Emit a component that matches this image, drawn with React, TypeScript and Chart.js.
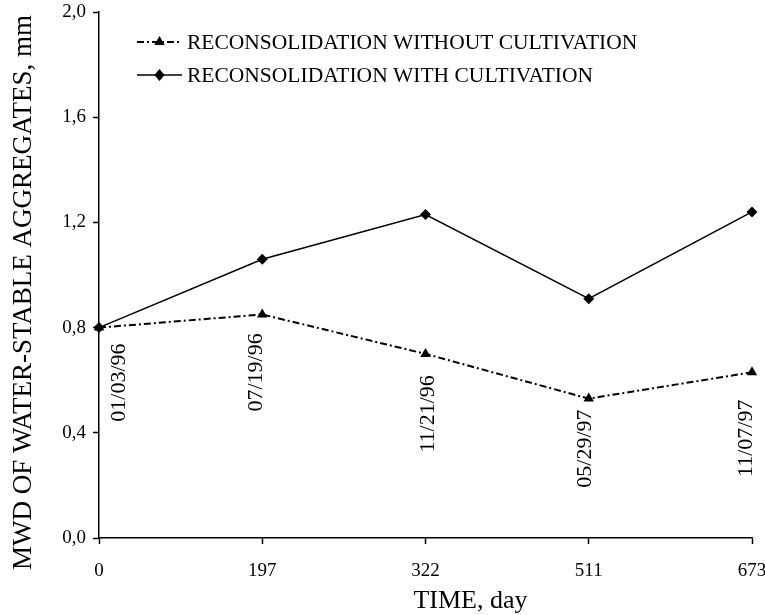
import React, { useEffect, useRef } from 'react';
import { Chart, registerables } from 'chart.js';

Chart.register(...registerables);

// ---- data ----
const dayLabels = ['0', '197', '322', '511', '673'];
const dateLabels = ['01/03/96', '07/19/96', '11/21/96', '05/29/97', '11/07/97'];
const withoutCultivation = [0.8, 0.85, 0.7, 0.53, 0.63];
const withCultivation = [0.8, 1.06, 1.23, 0.91, 1.24];
const seriesNames = ['RECONSOLIDATION WITHOUT CULTIVATION', 'RECONSOLIDATION WITH CULTIVATION'];
const yTickValues = [0, 0.4, 0.8, 1.2, 1.6, 2.0];
const xTitle = 'TIME, day';
const yTitle = 'MWD OF WATER-STABLE AGGREGATES, mm';

// ---- layout (not data) ----
const dateLabelOffsets = [
  [20, 55],
  [-6, 58],
  [3, 60],
  [-4, 50],
  [-6, 66],
];

const FONT = '"Liberation Serif", "Times New Roman", serif';

function drawMarker(ctx: CanvasRenderingContext2D, style: string, x: number, y: number, r: number) {
  ctx.beginPath();
  if (style === 'triangle') {
    ctx.moveTo(x, y - r);
    ctx.lineTo(x + r * 0.866, y + r * 0.5);
    ctx.lineTo(x - r * 0.866, y + r * 0.5);
  } else {
    ctx.moveTo(x, y - r);
    ctx.lineTo(x + r * 0.85, y);
    ctx.lineTo(x, y + r);
    ctx.lineTo(x - r * 0.85, y);
  }
  ctx.closePath();
  ctx.fill();
}

const overlayPlugin = {
  id: 'overlay',
  afterDatasetsDraw(chart: any) {
    const { ctx, chartArea } = chart;
    ctx.save();
    ctx.fillStyle = '#000';
    ctx.strokeStyle = '#000';

    // date labels under the lower series
    const meta = chart.getDatasetMeta(0);
    ctx.font = `22px ${FONT}`;
    ctx.textAlign = 'center';
    ctx.textBaseline = 'middle';
    meta.data.forEach((pt: any, i: number) => {
      const [dx, dy] = dateLabelOffsets[i];
      ctx.save();
      ctx.translate(pt.x + dx, pt.y + dy);
      ctx.rotate(-Math.PI / 2);
      ctx.fillText(dateLabels[i], 0, 0);
      ctx.restore();
    });

    // legend
    chart.data.datasets.forEach((ds: any, i: number) => {
      const y = chartArea.top + 30 + i * 33;
      const x0 = chartArea.left + 38;
      const x1 = chartArea.left + 83;
      ctx.save();
      ctx.lineWidth = ds.borderWidth;
      ctx.setLineDash(ds.borderDash || []);
      ctx.beginPath();
      ctx.moveTo(x0, y);
      ctx.lineTo(x1, y);
      ctx.stroke();
      ctx.restore();
      drawMarker(ctx, ds.pointStyle, (x0 + x1) / 2, y, 6);
      ctx.font = `21.5px ${FONT}`;
      ctx.textAlign = 'left';
      ctx.textBaseline = 'middle';
      ctx.fillText(ds.label, x1 + 5, y + 1);
    });

    // axis titles
    ctx.font = `26px ${FONT}`;
    ctx.textBaseline = 'alphabetic';
    ctx.textAlign = 'center';
    ctx.fillText(xTitle, (chartArea.left + chartArea.right) / 2 + 45, 608);

    ctx.save();
    ctx.font = `27px ${FONT}`;
    ctx.translate(31, 570);
    ctx.rotate(-Math.PI / 2);
    ctx.textAlign = 'left';
    ctx.fillText(yTitle, 0, 0);
    ctx.restore();

    ctx.restore();
  },
};

export default function App() {
  const canvasRef = useRef<HTMLCanvasElement | null>(null);

  useEffect(() => {
    document.body.style.margin = '0';
    const canvas = canvasRef.current;
    if (!canvas) return;
    const chart = new Chart(canvas, {
      type: 'line',
      data: {
        labels: dayLabels,
        datasets: [
          {
            label: seriesNames[0],
            data: withoutCultivation,
            borderColor: '#000',
            backgroundColor: '#000',
            borderWidth: 2,
            borderDash: [7, 3, 2, 3],
            pointStyle: 'triangle',
            pointRadius: 6,
            pointBorderWidth: 0,
            tension: 0,
            fill: false,
          },
          {
            label: seriesNames[1],
            data: withCultivation,
            borderColor: '#000',
            backgroundColor: '#000',
            borderWidth: 1.5,
            borderDash: [],
            pointStyle: 'rectRot',
            pointRadius: 5.5,
            pointBorderWidth: 0,
            tension: 0,
            fill: false,
          },
        ],
      },
      options: {
        responsive: false,
        animation: false,
        devicePixelRatio: 1,
        layout: { padding: { top: 12, right: 13, left: 0, bottom: 0 }, autoPadding: false },
        plugins: {
          legend: { display: false },
          tooltip: { enabled: false },
        },
        scales: {
          x: {
            type: 'category',
            offset: false,
            grid: {
              display: true,
              drawOnChartArea: false,
              drawTicks: true,
              tickLength: 6,
              tickColor: '#000',
              tickWidth: 1.5,
            },
            border: { display: true, color: '#000', width: 1.5 },
            ticks: {
              color: '#000',
              font: { family: FONT, size: 19 },
              padding: 16,
              maxRotation: 0,
              autoSkip: false,
            },
            afterFit: (scale: any) => {
              scale.height = 615 - 538;
              scale.paddingLeft = 0;
              scale.paddingRight = 0;
            },
          },
          y: {
            type: 'linear',
            min: 0,
            max: 2,
            grid: {
              display: true,
              drawOnChartArea: false,
              drawTicks: true,
              tickLength: 6,
              tickColor: '#000',
              tickWidth: 1.5,
            },
            border: { display: true, color: '#000', width: 1.5 },
            afterBuildTicks: (scale: any) => {
              scale.ticks = yTickValues.map((v) => ({ value: v }));
            },
            ticks: {
              color: '#000',
              font: { family: FONT, size: 19 },
              padding: 7,
              callback: (v: any) => Number(v).toFixed(1).replace('.', ','),
            },
            afterFit: (scale: any) => {
              scale.width = 99;
              scale.paddingTop = 0;
              scale.paddingBottom = 0;
            },
          },
        },
      },
      plugins: [overlayPlugin],
    });
    return () => chart.destroy();
  }, []);

  return (
    <div style={{ width: 765, height: 615 }}>
      <canvas ref={canvasRef} width={765} height={615} style={{ width: 765, height: 615, display: 'block' }} />
    </div>
  );
}
